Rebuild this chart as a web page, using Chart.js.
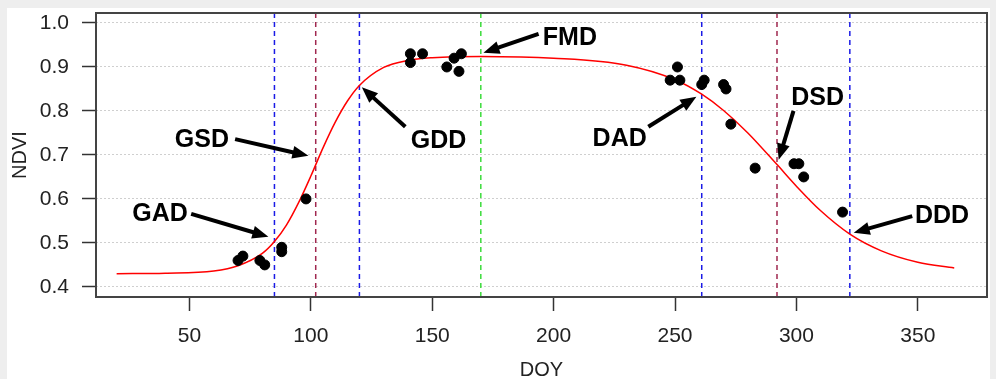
<!DOCTYPE html>
<html>
<head>
<meta charset="utf-8">
<script src="https://cdn.jsdelivr.net/npm/chart.js@4.4.1/dist/chart.umd.min.js"></script>
<style>
  html, body { margin: 0; padding: 0; background: #eeeeee; }
  canvas { display: block; }
</style>
</head>
<body>
<canvas id="chart" width="996" height="379"></canvas>
<script>
// observed NDVI
const doy = [70, 72, 79, 81, 88, 88, 98, 141, 146, 141, 156, 159, 162, 161, 251, 248, 252, 261, 262, 270, 271, 273, 283, 299, 301, 303, 319]
const ndvi = [0.46, 0.47, 0.46, 0.45, 0.49, 0.48, 0.60, 0.93, 0.93, 0.91, 0.90, 0.92, 0.93, 0.89, 0.90, 0.87, 0.87, 0.86, 0.87, 0.86, 0.85, 0.77, 0.67, 0.68, 0.68, 0.65, 0.57]

// fitted curve
const fitDoy = [20, 40, 60, 70, 80, 85, 90, 95, 100, 105, 110, 115, 120, 130, 140, 150, 170, 200, 230, 250, 261, 270, 280, 292, 300, 310, 322, 335, 350, 365]
const fitNdvi = [0.430, 0.431, 0.436, 0.448, 0.476, 0.503, 0.541, 0.592, 0.652, 0.716, 0.774, 0.822, 0.858, 0.899, 0.915, 0.921, 0.924, 0.920, 0.904, 0.871, 0.838, 0.801, 0.750, 0.678, 0.629, 0.573, 0.520, 0.482, 0.456, 0.443]

// phenology dates
const phenoNames = ['GAD', 'GSD', 'GDD', 'FMD', 'DAD', 'DSD', 'DDD']
const phenoDoy = [85, 102, 120, 170, 261, 292, 322]

const xTicks = [50, 100, 150, 200, 250, 300, 350]
const yTicks = [0.4, 0.5, 0.6, 0.7, 0.8, 0.9, 1.0]

const X_MIN = 11.5, X_MAX = 378.5
const Y_MIN = 0.377, Y_MAX = 1.0227
const FONT = "'Liberation Sans', Arial, sans-serif"

const BLUE = '#1a1ae6', DARKRED = '#a0284f', GREEN = '#3cdc3c'
const lineColors = { GAD: BLUE, GSD: DARKRED, GDD: BLUE, FMD: GREEN, DAD: BLUE, DSD: DARKRED, DDD: BLUE }

// where the labels and arrows sit, in data units
const notes = {
  GAD: { label: [37.9, 0.5675], from: [50.7, 0.566], to: [82.5, 0.514] },
  GSD: { label: [55.1, 0.736], from: [68.8, 0.736], to: [99.0, 0.698] },
  GDD: { label: [152.6, 0.734], from: [138.9, 0.764], to: [121.0, 0.854] },
  FMD: { label: [206.7, 0.9675], from: [193.8, 0.975], to: [171.1, 0.9325] },
  DAD: { label: [227.2, 0.738], from: [239.0, 0.764], to: [258.8, 0.8325] },
  DSD: { label: [308.7, 0.8325], from: [298.8, 0.80], to: [292.7, 0.689] },
  DDD: { label: [360.0, 0.5636], from: [347.7, 0.561], to: [323.6, 0.523] }
}

const panel = {
  id: 'panel',
  beforeDraw(chart) {
    const ctx = chart.ctx
    ctx.save()
    ctx.fillStyle = '#eeeeee'
    ctx.fillRect(0, 0, chart.width, chart.height)
    ctx.fillStyle = '#ffffff'
    ctx.fillRect(7, 8, 983, 371)
    ctx.restore()
  }
}

const frame = {
  id: 'frame',
  afterDraw(chart) {
    const { ctx, chartArea: a } = chart
    ctx.save()
    ctx.strokeStyle = '#444'
    ctx.lineWidth = 2
    ctx.strokeRect(a.left, a.top, a.right - a.left, a.bottom - a.top)
    ctx.restore()
  }
}

const arrows = {
  id: 'arrows',
  afterDatasetsDraw(chart) {
    const { ctx, scales: { x, y } } = chart
    ctx.save()
    ctx.fillStyle = '#000'
    ctx.strokeStyle = '#000'
    ctx.font = 'bold 25px ' + FONT
    ctx.textAlign = 'center'
    ctx.textBaseline = 'middle'
    phenoNames.forEach(name => {
      const n = notes[name]
      const fx = x.getPixelForValue(n.from[0]), fy = y.getPixelForValue(n.from[1])
      const tx = x.getPixelForValue(n.to[0]), ty = y.getPixelForValue(n.to[1])
      const ang = Math.atan2(ty - fy, tx - fx)
      const head = 16, half = 6.5
      const bx = tx - head * Math.cos(ang), by = ty - head * Math.sin(ang)
      ctx.lineWidth = 4
      ctx.beginPath()
      ctx.moveTo(fx, fy)
      ctx.lineTo(bx + 2 * Math.cos(ang), by + 2 * Math.sin(ang))
      ctx.stroke()
      ctx.beginPath()
      ctx.moveTo(tx, ty)
      ctx.lineTo(bx + half * Math.sin(ang), by - half * Math.cos(ang))
      ctx.lineTo(bx - half * Math.sin(ang), by + half * Math.cos(ang))
      ctx.closePath()
      ctx.fill()
      ctx.fillText(name, x.getPixelForValue(n.label[0]), y.getPixelForValue(n.label[1]) + 1)
    })
    ctx.restore()
  }
}

const vlines = phenoNames.map((name, i) => ({
  data: [{ x: phenoDoy[i], y: Y_MIN }, { x: phenoDoy[i], y: Y_MAX }],
  showLine: true,
  borderColor: lineColors[name],
  borderWidth: 1.5,
  borderDash: [5, 4],
  pointRadius: 0
}))

new Chart(document.getElementById('chart'), {
  type: 'scatter',
  data: {
    datasets: [
      {
        data: doy.map((d, i) => ({ x: d, y: ndvi[i] })),
        backgroundColor: '#000',
        borderColor: '#000',
        pointRadius: 5,
        pointHoverRadius: 5
      },
      {
        data: fitDoy.map((d, i) => ({ x: d, y: fitNdvi[i] })),
        showLine: true,
        borderColor: '#ff0000',
        borderWidth: 1.5,
        pointRadius: 0,
        cubicInterpolationMode: 'monotone'
      },
      ...vlines
    ]
  },
  options: {
    responsive: false,
    animation: false,
    devicePixelRatio: 1,
    layout: { padding: { left: 7, top: 13, right: 9, bottom: 0 } },
    plugins: { legend: { display: false }, tooltip: { enabled: false } },
    scales: {
      x: {
        type: 'linear',
        min: X_MIN,
        max: X_MAX,
        afterFit: s => { s.height = 82; s.paddingLeft = 0; s.paddingRight = 0 },
        afterBuildTicks: s => { s.ticks = xTicks.map(v => ({ value: v })) },
        grid: { drawOnChartArea: false, drawTicks: true, tickLength: 14, tickColor: '#333', tickWidth: 1.5, tickBorderDash: [] },
        border: { display: false },
        ticks: { color: '#222', font: { family: FONT, size: 21 }, padding: 13, maxRotation: 0, autoSkip: false, callback: v => String(v) },
        title: { display: true, text: 'DOY', color: '#222', font: { family: FONT, size: 20 }, padding: { top: 0, bottom: -3 } }
      },
      y: {
        type: 'linear',
        min: Y_MIN,
        max: Y_MAX,
        afterFit: s => { s.width = 89; s.paddingTop = 0; s.paddingBottom = 0 },
        afterBuildTicks: s => { s.ticks = yTicks.map(v => ({ value: v })) },
        grid: { color: '#cfcfcf', lineWidth: 1, drawTicks: true, tickLength: 14, tickColor: '#333', tickWidth: 1.5, tickBorderDash: [] },
        border: { display: false, dash: [2, 2] },
        ticks: { color: '#222', font: { family: FONT, size: 21 }, padding: 13, autoSkip: false, callback: v => v.toFixed(1) },
        title: { display: true, text: 'NDVI', color: '#222', font: { family: FONT, size: 20 }, padding: { top: 1, bottom: 0 } }
      }
    }
  },
  plugins: [panel, frame, arrows]
})
</script>
</body>
</html>
